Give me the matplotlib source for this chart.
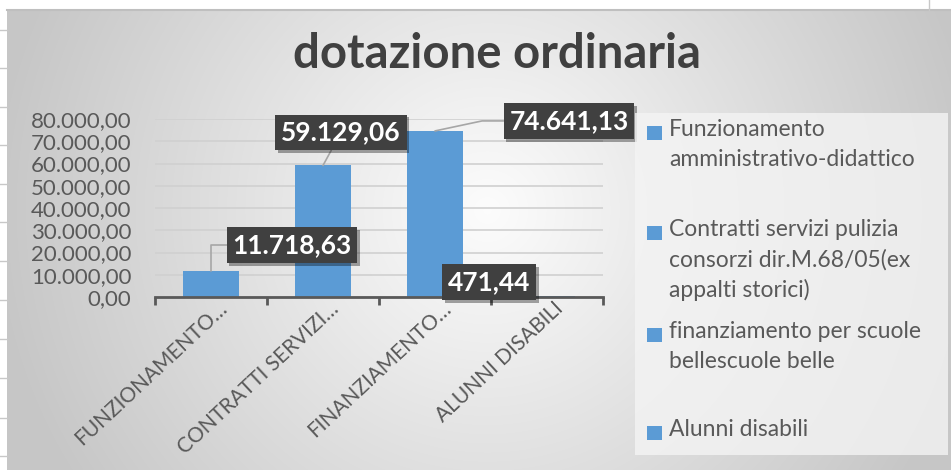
import numpy as np
import matplotlib.pyplot as plt
import matplotlib.transforms as mtransforms
from matplotlib.patches import Rectangle
from matplotlib import patheffects as pe

plt.rcParams['font.family'] = ['Lato', 'DejaVu Sans']

# data
categories = ['FUNZIONAMENTO…', 'CONTRATTI SERVIZI…', 'FINANZIAMENTO…', 'ALUNNI DISABILI']
values = [11718.63, 59129.06, 74641.13, 471.44]
legend_labels = ['Funzionamento\namministrativo-didattico',
                 'Contratti servizi pulizia\nconsorzi dir.M.68/05(ex\nappalti storici)',
                 'finanziamento per scuole\nbellescuole belle',
                 'Alunni disabili']
yticks = [0, 10000, 20000, 30000, 40000, 50000, 60000, 70000, 80000]

BLUE = '#5B9BD5'
GREY = '#595959'
W, H = 951, 470


def ita(v):
    s = f"{v:,.2f}"
    return s.replace(',', '#').replace('.', ',').replace('#', '.')


def fx(x):
    return x / W


def fy(y):
    return 1 - y / H


fig = plt.figure(figsize=(W / 100, H / 100), dpi=100)
fig.patch.set_facecolor('white')

# radial gradient background of the chart area
bg = fig.add_axes([fx(7), 0, fx(944), 1 - 10 / H])
bg.set_axis_off()
yy, xx = np.mgrid[0:460, 0:944]
d = np.sqrt(((xx - 480) / 560.0) ** 2 + ((yy - 200) / 560.0) ** 2)
shade = np.clip(0.99 - 0.24 * d, 0.78, 1)
bg.imshow(np.dstack([shade] * 3), aspect='auto', extent=[0, 944, 460, 0])

# spreadsheet fragments around the chart
for ly in [30, 68, 107, 145, 184, 222, 261, 300, 339, 378, 418, 456]:
    fig.add_artist(plt.Line2D([0, fx(7)], [fy(ly), fy(ly)], color='#c8c8c8', lw=1))
fig.add_artist(plt.Line2D([fx(7), 1], [fy(10), fy(10)], color='#bfbfbf', lw=1.5))
fig.add_artist(plt.Line2D([fx(929), fx(929)], [1, fy(10)], color='#c8c8c8', lw=1))

# legend panel
fig.add_artist(Rectangle((fx(635), fy(455)), fx(313), 342 / H, transform=fig.transFigure,
                         fc='#f4f4f4', ec='none', alpha=0.8))

fig.text(fx(497), fy(68), 'dotazione ordinaria', ha='center', va='baseline',
         fontsize=34, fontweight='bold', color='#404040')

ax = fig.add_axes([fx(155), fy(297), fx(448), 178 / H])
ax.patch.set_alpha(0)
x = np.arange(len(values))
ax.bar(x, values, width=0.5, color=BLUE, zorder=3)
ax.set_xlim(-0.5, len(values) - 0.5)
ax.set_ylim(0, 80000)
ax.set_yticks(yticks)
ax.set_yticklabels([ita(v) for v in yticks], fontsize=16, color=GREY)
ax.yaxis.grid(True, color='#d0d0d0', lw=1.2, zorder=0)
ax.tick_params(axis='y', length=0, pad=17)
for s in ['left', 'right', 'top']:
    ax.spines[s].set_visible(False)
ax.spines['bottom'].set_color(GREY)
ax.spines['bottom'].set_linewidth(2)
ax.spines['bottom'].set_zorder(4)

ax.set_xticks(x)
ax.set_xticklabels(categories, rotation=43, ha='right', va='top',
                   rotation_mode='anchor', fontsize=15, color=GREY)
ax.tick_params(axis='x', which='major', length=0, pad=1)
shift = mtransforms.ScaledTranslation(6 / 100, 0, fig.dpi_scale_trans)
for lab in ax.get_xticklabels():
    lab.set_transform(lab.get_transform() + shift)
ax.set_xticks(np.arange(len(values) + 1) - 0.5, minor=True)
ax.tick_params(axis='x', which='minor', length=6, width=2, color=GREY, direction='out')

# data labels
offsets = [(81, 26), (18, 33), (134, 10), (-58, 14)]
conns = ['angle,angleA=0,angleB=90,rad=0', 'arc3,rad=0',
         'angle,angleA=0,angleB=12,rad=0', None]
for i, v in enumerate(values):
    ap = None
    if conns[i] is not None:
        ap = dict(arrowstyle='-', color='#a6a6a6', lw=1.2,
                  connectionstyle=conns[i], shrinkA=0, shrinkB=0)
    ann = ax.annotate(ita(v), xy=(i, v), xytext=offsets[i], textcoords='offset pixels',
                      ha='center', va='center', fontsize=19, fontweight='bold', color='white',
                      bbox=dict(boxstyle='square,pad=0.22', fc='#404040', ec='none'),
                      arrowprops=ap, zorder=6, annotation_clip=False)
    ann.get_bbox_patch().set_path_effects(
        [pe.SimplePatchShadow(offset=(2, -2), shadow_rgbFace='#000000', alpha=0.35), pe.Normal()])

# legend
slot_top = [133, 233, 335, 433]
for lab, ty in zip(legend_labels, slot_top):
    fig.add_artist(Rectangle((fx(647), fy(ty + 7)), fx(15), 14 / H, transform=fig.transFigure,
                             fc=BLUE, ec='none'))
    fig.text(fx(669), fy(ty - 14), lab, ha='left', va='top', fontsize=16.5,
             color=GREY, linespacing=1.5)

fig.savefig('out.png', dpi=100)
